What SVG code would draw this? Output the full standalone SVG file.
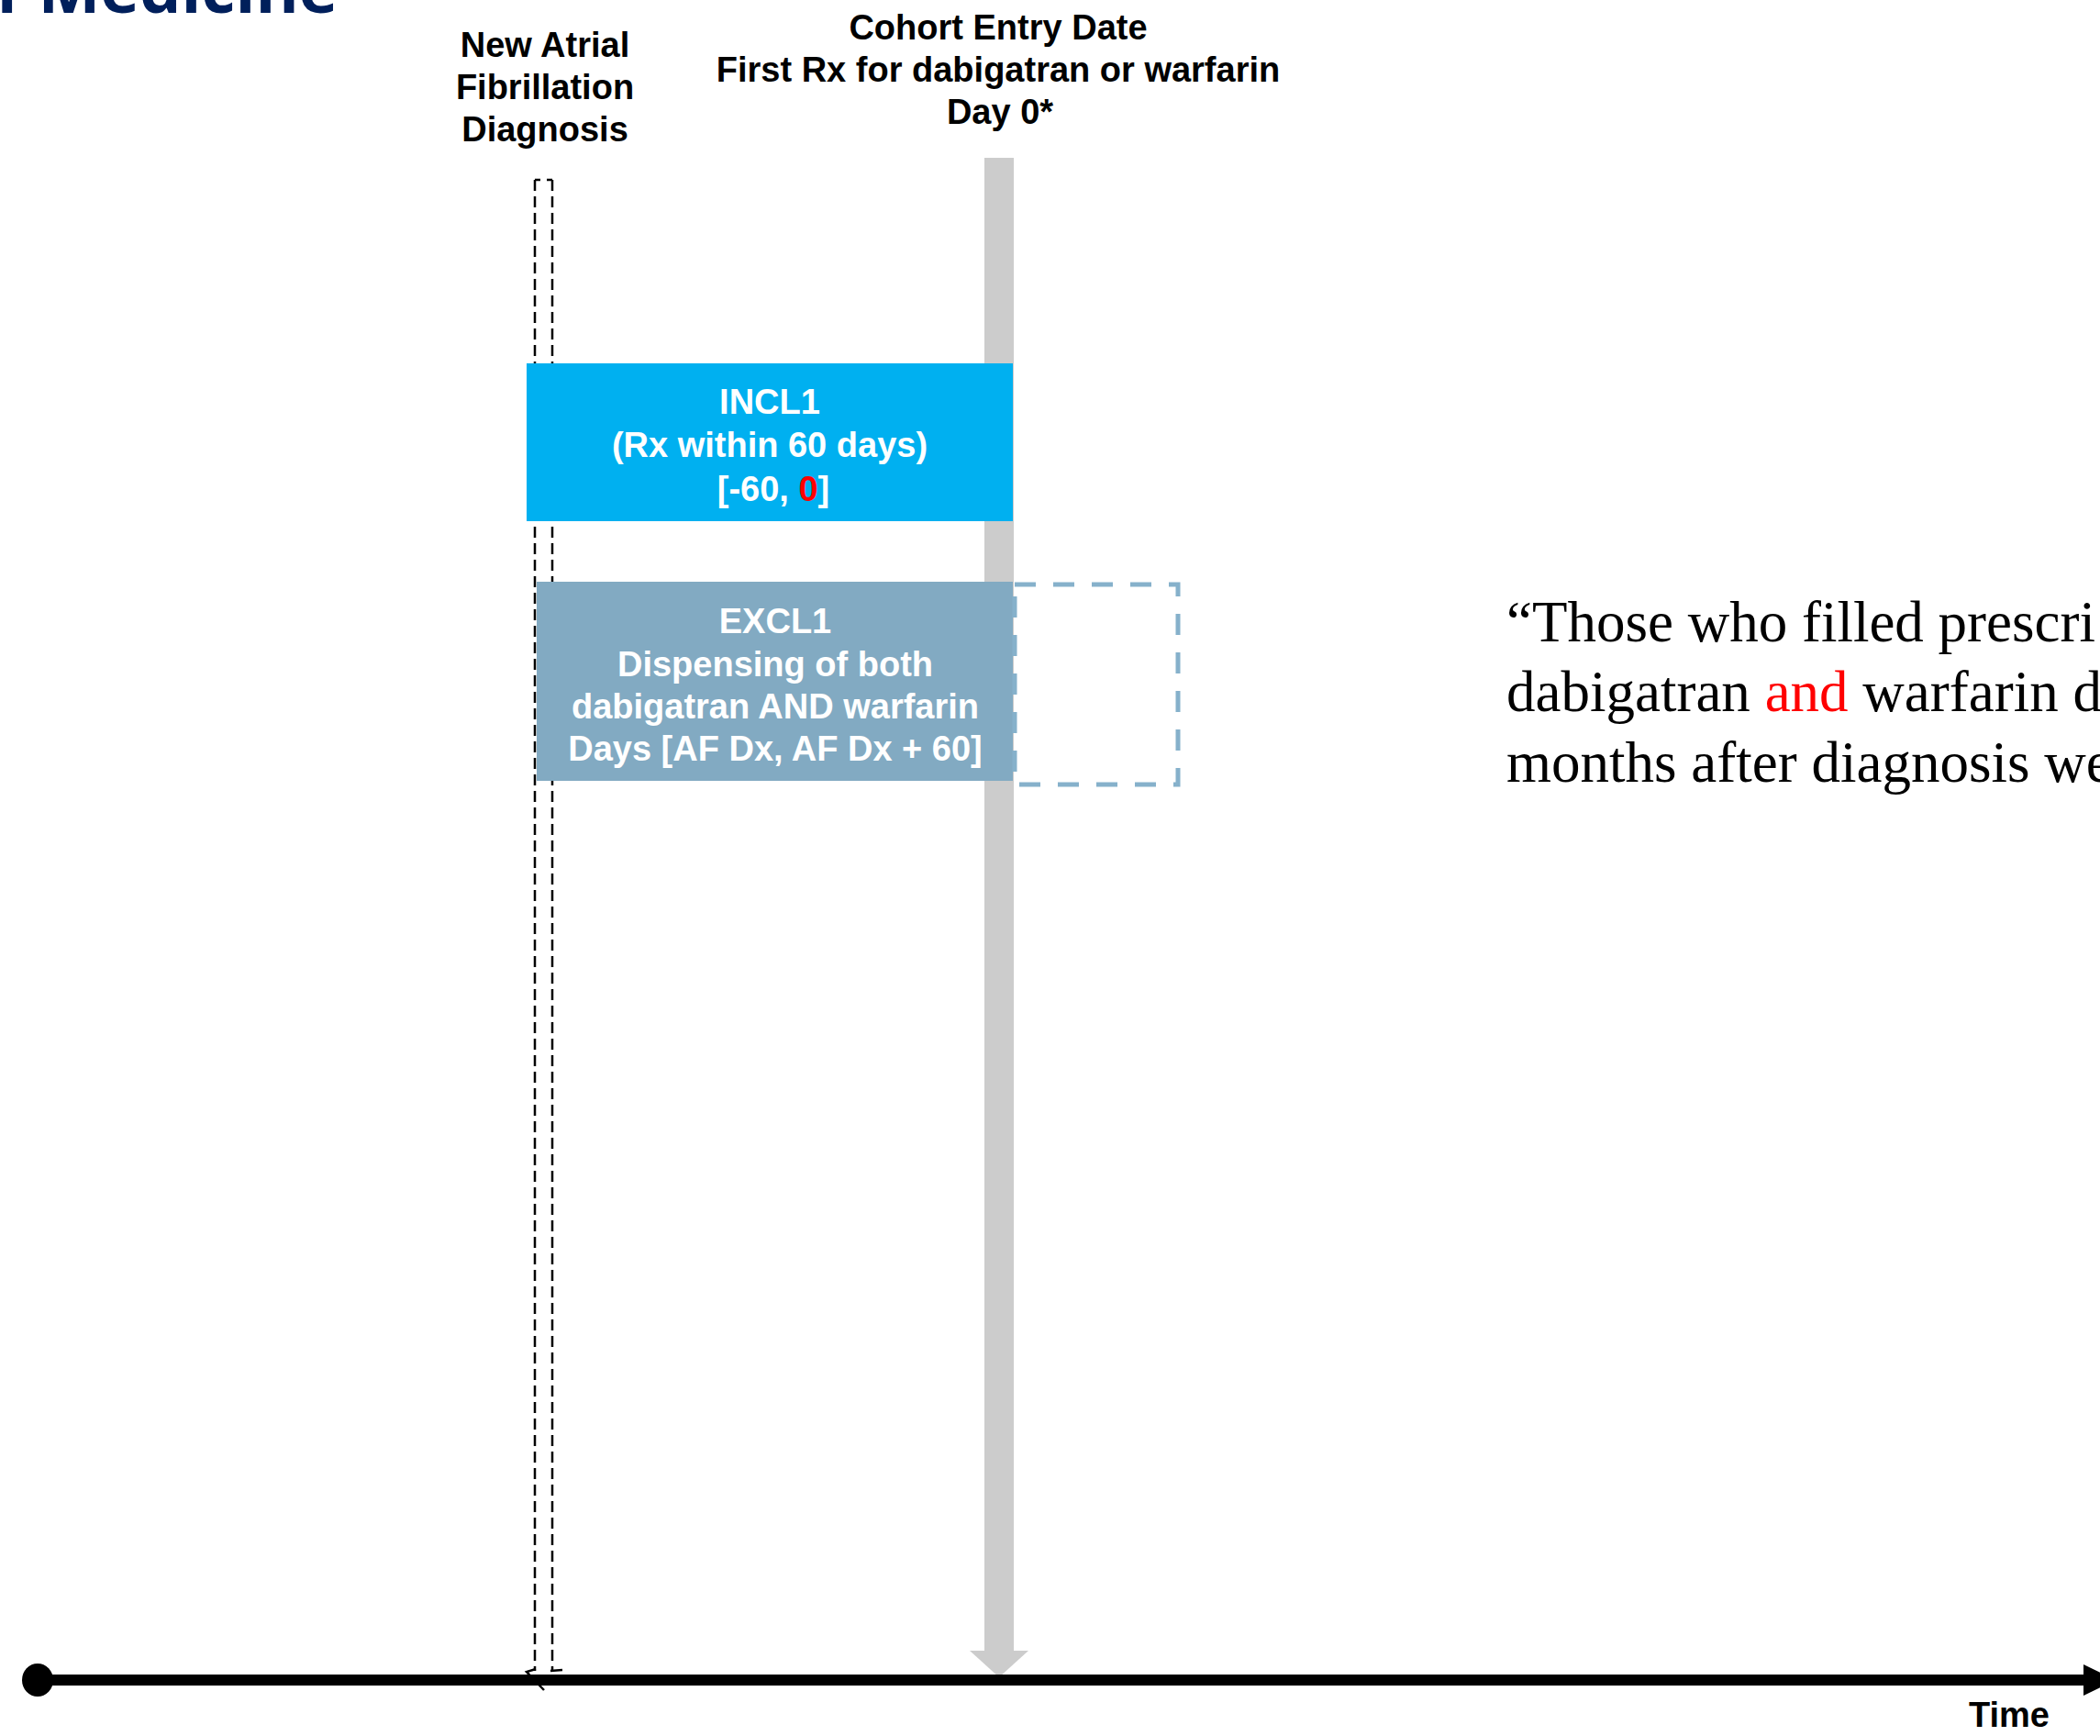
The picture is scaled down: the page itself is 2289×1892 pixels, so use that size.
<svg xmlns="http://www.w3.org/2000/svg" width="2289" height="1892" viewBox="0 0 2289 1892">
<style>
.lbl{font-family:"Liberation Sans",Arial,sans-serif;font-weight:bold;font-size:38px;fill:#000;text-anchor:middle}
.box{font-family:"Liberation Sans",Arial,sans-serif;font-weight:bold;font-size:38px;fill:#fff;text-anchor:middle}
.quote{font-family:"Liberation Serif","Times New Roman",serif;font-size:63px;fill:#000}
.red{fill:#FF0000}
</style>
<rect width="2289" height="1892" fill="#fff"/>
<text x="-5" y="14" font-family="'Open Sans',sans-serif" font-weight="bold" font-size="72" fill="#001F5B">f Medicine</text>

<g id="connectors">
  <g id="cohort-entry-arrow">
    <rect x="1073" y="172" width="32" height="1630" fill="#CCCCCC"/>
    <polygon points="1057,1799 1121,1799 1089,1828" fill="#CCCCCC"/>
  </g>
  <g id="af-dx-marker" fill="none" stroke="#000" stroke-width="2.5">
    <path d="M583,196 L583,1821 M602,196 L602,1821" stroke-dasharray="12 6"/>
    <path d="M583,196 L589,196 M602,196 L596,196"/>
    <path d="M600,1821 L613,1820"/>
    <polyline points="584,1819 574,1822 593,1842"/>
  </g>
  <g id="time-axis">
    <line x1="41" y1="1831" x2="2275" y2="1831" stroke="#000" stroke-width="12"/>
    <ellipse cx="41" cy="1831" rx="17" ry="18" fill="#000"/>
    <polygon points="2271,1814 2306,1831 2271,1848" fill="#000"/>
  </g>
</g>

<g id="label-af">
  <text class="lbl" x="594" y="62">New Atrial</text>
  <text class="lbl" x="594" y="108">Fibrillation</text>
  <text class="lbl" x="594" y="154">Diagnosis</text>
</g>

<g id="label-cohort">
  <text class="lbl" x="1088" y="43">Cohort Entry Date</text>
  <text class="lbl" x="1088" y="89">First Rx for dabigatran or warfarin</text>
  <text class="lbl" x="1090" y="135">Day 0*</text>
</g>

<g id="incl1">
  <rect x="574" y="396" width="530" height="172" fill="#00B0F0"/>
  <text class="box" x="839" y="451">INCL1</text>
  <text class="box" x="839" y="498">(Rx within 60 days)</text>
  <text class="box" x="843" y="546">[-60, <tspan class="red">0</tspan>]</text>
</g>

<g id="excl1">
  <rect x="585" y="634" width="519" height="217" fill="#82AAC2"/>
  <text class="box" x="845" y="690">EXCL1</text>
  <text class="box" x="845" y="737">Dispensing of both</text>
  <text class="box" x="845" y="783">dabigatran AND warfarin</text>
  <text class="box" x="845" y="829">Days [AF Dx, AF Dx + 60]</text>
</g>

<g id="excl1-window">
  <rect x="1106" y="637" width="178" height="218" fill="none" stroke="#86B1CB" stroke-width="5" stroke-dasharray="23 19"/>
</g>

<g id="quote">
  <text class="quote" x="1642" y="699">“Those who filled prescri</text>
  <text class="quote" x="1642" y="775">dabigatran <tspan class="red">and</tspan> warfarin d</text>
  <text class="quote" x="1642" y="852">months after diagnosis we</text>
</g>

<g id="label-time">
  <text class="lbl" x="2190" y="1882">Time</text>
</g>
</svg>
